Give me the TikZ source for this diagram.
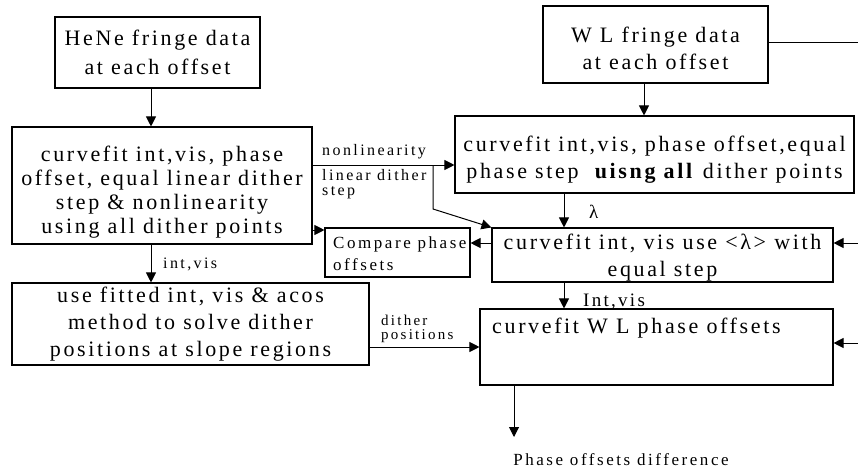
\documentclass[tikz,border=0pt]{standalone}
\usepackage{fontspec}
\setmainfont{Liberation Serif}
\newfontfamily\boxfont[LetterSpace=12]{Liberation Serif}
\newfontfamily\smallfont[LetterSpace=15]{Liberation Serif}
\newcommand{\dnstrut}[1]{\rule{0pt}{#1pt}}
\usetikzlibrary{arrows.meta}
\begin{document}
\begin{tikzpicture}[x=1pt,y=-1pt,
  box/.style={draw, line width=1.1pt, inner sep=0pt, align=center,
    font=\boxfont\fontsize{22}{24}\selectfont},
  boxtext/.style={inner sep=0pt, font=\boxfont\fontsize{22}{24}\selectfont},
  lbl/.style={inner sep=0pt, align=left, font=\smallfont\fontsize{16}{15}\selectfont},
  midlbl/.style={inner sep=0pt, font=\boxfont\fontsize{19}{22}\selectfont},
  arr/.style={-{Triangle[length=10pt,width=10pt]}, line width=1pt},
  ln/.style={line width=1pt}
]
\useasboundingbox (0,0) rectangle (858,468);

% boxes
\node[box, minimum width=205pt, minimum height=71pt, font=\boxfont\fontsize{22}{29}\selectfont] (hene) at (157.5,52.5) {HeNe fringe data\\at each offset};
\node[box, minimum width=225pt, minimum height=77pt, font=\boxfont\fontsize{22}{27}\selectfont] (wl) at (655.5,44.5) {\dnstrut{23}W L fringe data\\at each offset};
\node[box, minimum width=300pt, minimum height=117pt] (b1) at (162,185.5)
  {\dnstrut{29}curvefit int,vis, phase\\offset, equal linear dither\\step \& nonlinearity\\using all dither points};
\node[box, minimum width=399pt, minimum height=77pt, font=\boxfont\fontsize{22}{27}\selectfont] (b2) at (654.5,154.5)
  {\dnstrut{25}curvefit int,vis, phase offset,equal\\phase step~ \textbf{uisng all} dither points};
\node[box, minimum width=145pt, minimum height=49pt] (cmp) at (397.5,252.5) {};
\node[lbl, anchor=north west, font=\smallfont\fontsize{17}{22}\selectfont] (cmptext) at (333,237) {Compare phase\\offsets};
\node[box, minimum width=341pt, minimum height=54pt, font=\boxfont\fontsize{22}{27}\selectfont] (b3) at (662.5,255)
  {\dnstrut{21}curvefit int, vis use <λ> with\\equal step};
\node[box, minimum width=357pt, minimum height=82pt, font=\boxfont\fontsize{22}{27}\selectfont] (b4) at (190.5,324)
  {use fitted int, vis \& acos\\method to solve dither\\positions at slope regions};
\node[box, minimum width=353pt, minimum height=76pt] (b5) at (656.5,347) {};
\node[boxtext, anchor=west] (b5text) at (492,328) {curvefit W L phase offsets};

% labels
\node[lbl, anchor=base west] (lnonlin) at (322,155) {nonlinearity};
\node[lbl, anchor=north west] (llin) at (322,169) {linear dither\\step};
\node[lbl, anchor=base west] (lintvis) at (163,268) {int,vis};
\node[midlbl, anchor=base west] (llambda) at (589,218) {λ};
\node[midlbl, anchor=base west] (lIntvis) at (583,306) {Int,vis};
\node[lbl, anchor=north west, font=\smallfont\fontsize{15}{14}\selectfont] (ldither) at (381,315) {dither\\positions};
\node[lbl, anchor=base, font=\smallfont\fontsize{17}{18}\selectfont] (lout) at (621,465) {Phase offsets difference};

% helper coordinates
\coordinate (xA) at (564,0);
\coordinate (xB) at (514,0);
\coordinate (xH) at (151,0);
\coordinate (xW) at (644,0);
\coordinate (xBr) at (433,0);
\coordinate (y43) at (0,43);
\coordinate (y165) at (0,165);
\coordinate (y230) at (0,230);
\coordinate (y243) at (0,243);
\coordinate (y343) at (0,343);
\coordinate (y347) at (0,347);
\coordinate (redge1) at (858,43);
\coordinate (redge2) at (858,243);
\coordinate (redge3) at (858,343);
\coordinate (bend) at (433,209);
\coordinate (outend) at (514,437);

% connectors
\draw[arr] (hene.south -| xH) -- (b1.north -| xH);
\draw[arr] (wl.south -| xW) -- (b2.north -| xW);
\draw[arr] (b1.south -| xH) -- (b4.north -| xH);
\draw[arr] (b2.south -| xA) -- (b3.north -| xA);
\draw[arr] (b3.south -| xA) -- (b5.north -| xA);
\draw[arr] (b5.south -| xB) -- (outend);
\draw[arr] (b1.east |- y165) -- (b2.west |- y165);
\draw[arr] (xBr |- y165) -- (bend) -- (b3.north west);
\draw[arr] (b1.east |- y230) -- (cmp.west |- y230);
\draw[arr] (b3.west |- y243) -- (cmp.east |- y243);
\draw[arr] (b4.east |- y347) -- (b5.west |- y347);
\draw[ln] (wl.east |- y43) -- (redge1);
\draw[arr] (redge2) -- (b3.east |- y243);
\draw[arr] (redge3) -- (b5.east |- y343);
\end{tikzpicture}
\end{document}
